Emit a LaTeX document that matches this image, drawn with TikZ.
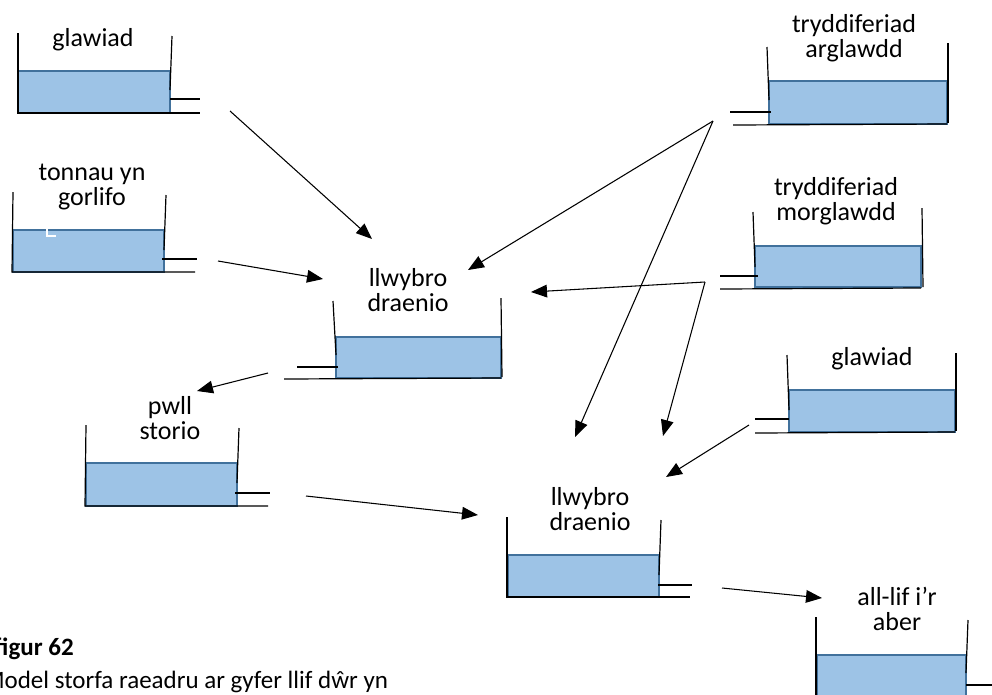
\documentclass[tikz,border=0pt]{standalone}
\usepackage{fontspec}
\setmainfont{Carlito}
\usetikzlibrary{arrows.meta}
\definecolor{tankblue}{HTML}{9DC3E6}
\definecolor{tankedge}{HTML}{41719C}
\tikzset{
  lbl/.style={font=\fontsize{19.5pt}{18.75pt}\selectfont, align=center, anchor=base, inner sep=0pt},
  caption/.style={font=\fontsize{18.75pt}{24.75pt}\selectfont, align=left, anchor=base west, inner sep=0pt},
  wall/.style={black, line width=0.9pt},
  tankbody/.style={fill=tankblue, draw=tankedge, line width=1.4pt},
  flow/.style={black, line width=0.8pt, -{Triangle[length=12pt,width=9.5pt]}},
}
\begin{document}
\begin{tikzpicture}[x=0.75pt,y=-0.75pt]
\useasboundingbox (0,0) rectangle (992,694);
\clip (0,0) rectangle (992,694);

% ---- tank 1: glawiad (top left)
\fill[tankbody] (18,71) rectangle (170,113);
\draw[wall] (18,33) -- (18,113) -- (200,113);
\draw[wall] (172,36) -- (170,90);
\draw[wall] (170,99) -- (200,99);
\node[lbl] (t1) at (93,46) {glawiad};

% ---- tank 2: tonnau yn gorlifo
\fill[tankbody] (13,230) rectangle (164,272);
\draw[white, line width=1.5pt] (47,228) -- (47,236) -- (56,236);
\draw[wall] (13,192) -- (12,272) -- (195,272);
\draw[wall] (166,195) -- (164,250);
\draw[wall] (162,259) -- (197,259);
\node[lbl] (t2) at (92,205) {tonnau yn\\gorlifo};

% ---- tank 3: llwybro draenio (middle)
\fill[tankbody] (336,337) rectangle (501,378);
\draw[wall] (333,301) -- (336,355);
\draw[wall] (501,298) -- (502,377);
\draw[wall] (284,379) -- (501,378);
\draw[wall] (297,367) -- (338,367);
\node[lbl] (t3) at (408,311) {llwybro\\draenio};

% ---- tank 4: pwll storio
\fill[tankbody] (86,463) rectangle (237,506);
\draw[wall] (86,425) -- (85,506) -- (268,506);
\draw[wall] (239,428) -- (237,483);
\draw[wall] (235,493) -- (270,493);
\node[lbl] (t4) at (170,439) {pwll\\storio};

% ---- tank 5: llwybro draenio (lower)
\fill[tankbody] (508,555) rectangle (659,597);
\draw[wall] (507,517) -- (507,597) -- (690,597);
\draw[wall] (661,520) -- (659,575);
\draw[wall] (658,585) -- (692,585);
\node[lbl] (t5) at (590,530) {llwybro\\draenio};

% ---- tank 6: tryddiferiad arglawdd
\fill[tankbody] (769,81) rectangle (947,124);
\draw[wall] (767,47) -- (769,100);
\draw[wall] (948,43) -- (948,123);
\draw[wall] (733,125) -- (947,124);
\draw[wall] (730,112) -- (771,112);
\node[lbl] (t6) at (854,57) {tryddiferiad\\arglawdd};

% ---- tank 7: tryddiferiad morglawdd
\fill[tankbody] (755,246) rectangle (921,287);
\draw[wall] (753,212) -- (755,267);
\draw[wall] (922,208) -- (923,287);
\draw[wall] (720,289) -- (921,288);
\draw[wall] (720,276) -- (758,276);
\node[lbl] (t7) at (836,220) {tryddiferiad\\morglawdd};

% ---- tank 8: glawiad (right)
\fill[tankbody] (789,390) rectangle (955,432);
\draw[wall] (787,355) -- (789,410);
\draw[wall] (956,353) -- (956,431);
\draw[wall] (755,433) -- (955,432);
\draw[wall] (755,419) -- (789,419);
\node[lbl] (t8) at (872,365) {glawiad};

% ---- tank 9: all-lif i'r aber
\fill[tankbody] (817,655) rectangle (966,710);
\draw[wall] (816,617) -- (816,710);
\draw[wall] (968,620) -- (966,673);
\draw[wall] (966,685) -- (1000,685);
\node[lbl] (t9) at (897,630) {all-lif i’r\\aber};

% ---- caption
\node[caption] (cap) at (-17,688) {\textbf{Ffigur 62}\\Model storfa raeadru ar gyfer llif dŵr yn};

% ---- arrow end points
\coordinate (a1s) at (230,111);  \coordinate (a1e) at (372,239);
\coordinate (a2s) at (218,261);  \coordinate (a2e) at (323,279);
\coordinate (a3s) at (713,121);  \coordinate (a3e) at (468,270);
\coordinate (a4e) at (575,437);
\coordinate (a5s) at (705,282);  \coordinate (a5e) at (531,292);
\coordinate (a6e) at (663,436);
\coordinate (a7s) at (268,373);  \coordinate (a7e) at (197,391);
\coordinate (a8s) at (306,496);  \coordinate (a8e) at (478,515);
\coordinate (a9s) at (749,425);  \coordinate (a9e) at (666,477);
\coordinate (a10s) at (722,588); \coordinate (a10e) at (822,598);

\draw[flow] (a1s) -- (a1e);
\draw[flow] (a2s) -- (a2e);
\draw[flow] (a3s) -- (a3e);
\draw[flow] (a3s) -- (a4e);
\draw[flow] (a5s) -- (a5e);
\draw[flow] (a5s) -- (a6e);
\draw[flow] (a7s) -- (a7e);
\draw[flow] (a8s) -- (a8e);
\draw[flow] (a9s) -- (a9e);
\draw[flow] (a10s) -- (a10e);
\end{tikzpicture}
\end{document}
